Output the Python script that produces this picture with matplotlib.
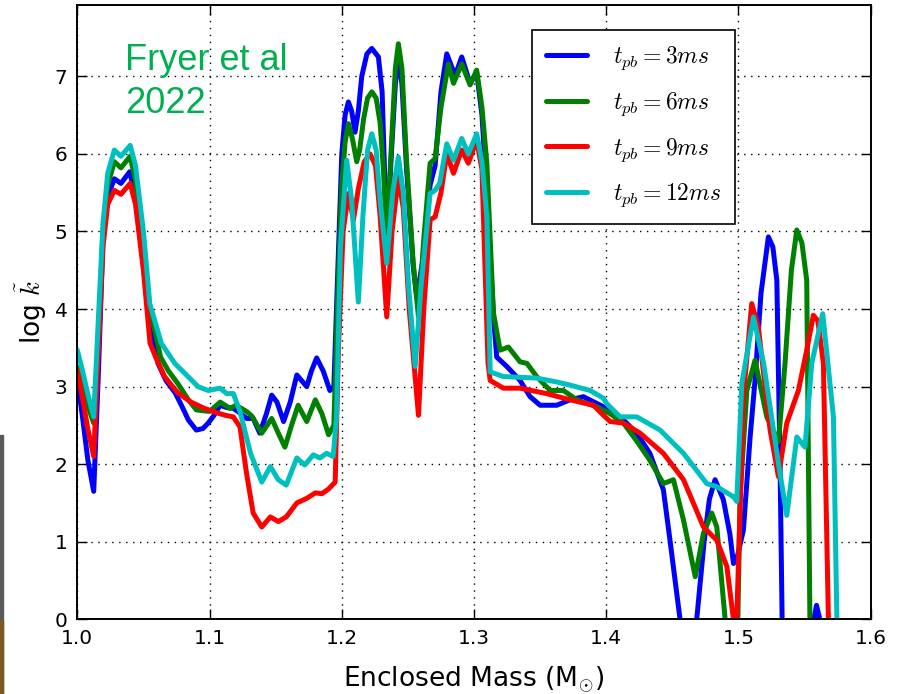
import numpy as np
import matplotlib
matplotlib.use("Agg")
from matplotlib import pyplot as plt
from matplotlib.patches import Rectangle

plt.rcParams['mathtext.fontset'] = 'cm'
plt.rcParams['font.family'] = 'DejaVu Sans'

# enclosed mass (Msun) and log opacity for each post-bounce time
mass_3ms = [1.000, 1.004, 1.008, 1.0124, 1.016, 1.0194, 1.023, 1.028, 1.033, 1.0396,
            1.044, 1.050, 1.055, 1.061, 1.067, 1.074, 1.079, 1.084, 1.090, 1.095,
            1.099, 1.103, 1.108, 1.113, 1.118, 1.123, 1.128, 1.133, 1.138, 1.143,
            1.147, 1.151, 1.156, 1.161, 1.166, 1.1735, 1.177, 1.181, 1.186, 1.191,
            1.194, 1.197, 1.200, 1.2025, 1.205, 1.2075, 1.210, 1.2125, 1.2151, 1.219,
            1.2227, 1.2277, 1.2305, 1.234, 1.2375, 1.2405, 1.2428, 1.2455, 1.249, 1.254,
            1.2567, 1.261, 1.2668, 1.2706, 1.275, 1.2794, 1.2857, 1.2907, 1.297, 1.302,
            1.306, 1.3097, 1.3147, 1.3172, 1.3248, 1.3348, 1.3424, 1.350, 1.3625, 1.3726,
            1.3827, 1.3979, 1.408, 1.413, 1.423, 1.433, 1.4432, 1.4482, 1.4558, 1.460,
            1.464, 1.4684, 1.474, 1.478, 1.4823, 1.4886, 1.4935, 1.4962, 1.499, 1.5037,
            1.5088, 1.5125, 1.517, 1.5226, 1.526, 1.529, 1.5314, 1.533, 1.535, 1.555,
            1.557, 1.559, 1.5615, 1.563]
logk_3ms = [3.10, 2.60, 2.05, 1.65, 3.20, 4.90, 5.45, 5.68, 5.62, 5.77,
            5.45, 4.55, 3.85, 3.30, 3.08, 2.92, 2.75, 2.57, 2.44, 2.46,
            2.53, 2.62, 2.76, 2.73, 2.72, 2.66, 2.59, 2.59, 2.40, 2.65,
            2.89, 2.80, 2.55, 2.80, 3.15, 3.00, 3.20, 3.37, 3.20, 2.95,
            3.00, 4.50, 6.00, 6.50, 6.67, 6.55, 6.28, 6.55, 7.00, 7.29,
            7.36, 7.25, 6.80, 4.85, 6.00, 6.90, 7.25, 6.90, 5.80, 4.55,
            4.15, 4.60, 5.60, 5.85, 6.80, 7.29, 7.01, 7.25, 6.91, 7.05,
            6.50, 5.50, 3.90, 3.38, 3.26, 3.08, 2.87, 2.76, 2.76, 2.83,
            2.87, 2.74, 2.61, 2.57, 2.40, 2.14, 1.67, 1.02, 0.00, -0.50,
            -0.50, 0.00, 1.00, 1.55, 1.80, 1.54, 1.10, 0.72, 0.80, 1.15,
            2.35, 3.08, 4.20, 4.93, 4.80, 4.37, 2.01, 0.00, -0.50, -0.50,
            0.00, 0.18, 0.00, -0.50]

mass_6ms = [1.000, 1.004, 1.008, 1.0124, 1.016, 1.0194, 1.023, 1.028, 1.033, 1.040,
            1.044, 1.050, 1.055, 1.063, 1.069, 1.076, 1.084, 1.090, 1.100, 1.104,
            1.108, 1.1155, 1.120, 1.124, 1.128, 1.132, 1.1395, 1.147, 1.152, 1.157,
            1.162, 1.167, 1.1735, 1.180, 1.185, 1.190, 1.194, 1.197, 1.200, 1.2025,
            1.205, 1.208, 1.2113, 1.2135, 1.2165, 1.2195, 1.2227, 1.226, 1.229, 1.2315,
            1.234, 1.2375, 1.2405, 1.2428, 1.2455, 1.249, 1.254, 1.258, 1.262, 1.2668,
            1.2706, 1.275, 1.2806, 1.2845, 1.2907, 1.297, 1.302, 1.306, 1.3097, 1.3147,
            1.3197, 1.326, 1.3348, 1.340, 1.3474, 1.3575, 1.3676, 1.3777, 1.3929, 1.403,
            1.413, 1.423, 1.433, 1.4432, 1.4508, 1.4584, 1.4673, 1.4735, 1.4798, 1.4836,
            1.4899, 1.4925, 1.499, 1.5012, 1.5063, 1.5125, 1.5214, 1.5302, 1.5352, 1.540,
            1.5441, 1.548, 1.5516, 1.554, 1.556]
logk_6ms = [3.25, 3.00, 2.75, 2.53, 3.60, 5.00, 5.60, 5.90, 5.82, 5.97,
            5.65, 4.70, 4.00, 3.38, 3.20, 3.04, 2.83, 2.70, 2.68, 2.74,
            2.80, 2.72, 2.76, 2.72, 2.68, 2.62, 2.40, 2.59, 2.40, 2.22,
            2.50, 2.76, 2.55, 2.83, 2.65, 2.38, 2.50, 4.20, 5.60, 6.15,
            6.39, 6.20, 5.90, 6.05, 6.45, 6.72, 6.80, 6.72, 6.40, 5.80,
            4.89, 6.10, 7.10, 7.42, 7.10, 5.90, 4.60, 3.90, 4.90, 5.88,
            5.94, 6.60, 7.16, 6.91, 7.16, 6.89, 7.08, 6.60, 5.88, 3.95,
            3.47, 3.51, 3.32, 3.30, 3.13, 2.95, 2.95, 2.83, 2.74, 2.65,
            2.53, 2.30, 2.05, 1.75, 1.80, 1.28, 0.55, 1.11, 1.37, 1.19,
            0.00, -0.50, -0.50, 1.58, 2.95, 3.34, 2.61, 2.29, 3.30, 4.50,
            5.02, 4.85, 4.37, 0.00, -0.50]

mass_9ms = [1.000, 1.004, 1.008, 1.0124, 1.016, 1.0194, 1.023, 1.028, 1.033, 1.040,
            1.044, 1.050, 1.055, 1.060, 1.066, 1.076, 1.086, 1.096, 1.106, 1.112,
            1.118, 1.123, 1.128, 1.133, 1.1395, 1.146, 1.152, 1.158, 1.166, 1.1735,
            1.180, 1.185, 1.190, 1.195, 1.1975, 1.201, 1.205, 1.2088, 1.2125, 1.217,
            1.2214, 1.2255, 1.229, 1.234, 1.238, 1.2428, 1.2465, 1.251, 1.258, 1.262,
            1.2668, 1.2706, 1.275, 1.2794, 1.2845, 1.2907, 1.2957, 1.302, 1.306, 1.3106,
            1.3122, 1.3222, 1.3348, 1.355, 1.3726, 1.3903, 1.3979, 1.403, 1.413, 1.4256,
            1.4432, 1.4584, 1.4735, 1.4836, 1.4912, 1.4962, 1.4975, 1.4987, 1.5037, 1.510,
            1.515, 1.5239, 1.5302, 1.5365, 1.5453, 1.5516, 1.5566, 1.560, 1.5642, 1.568,
            1.570]
logk_9ms = [3.21, 2.85, 2.45, 2.10, 3.50, 4.80, 5.35, 5.53, 5.48, 5.62,
            5.35, 4.50, 3.56, 3.35, 3.13, 2.92, 2.80, 2.72, 2.66, 2.63,
            2.61, 2.48, 1.88, 1.37, 1.19, 1.32, 1.26, 1.32, 1.50, 1.56,
            1.63, 1.62, 1.68, 1.77, 3.50, 5.00, 5.49, 5.15, 5.55, 5.90,
            6.00, 5.85, 5.20, 3.90, 5.00, 5.70, 5.30, 4.00, 2.63, 4.00,
            5.15, 5.19, 5.50, 6.00, 5.75, 6.05, 5.88, 6.18, 5.80, 3.30,
            3.08, 2.98, 2.98, 2.91, 2.83, 2.76, 2.63, 2.55, 2.53, 2.40,
            2.14, 1.80, 1.19, 1.02, 0.68, 0.00, -0.30, 0.00, 2.87, 4.07,
            3.77, 2.44, 1.84, 2.53, 2.95, 3.47, 3.92, 3.85, 3.30, 0.00,
            -0.50]

mass_12ms = [1.000, 1.004, 1.008, 1.0124, 1.016, 1.0194, 1.023, 1.028, 1.033, 1.040,
             1.044, 1.050, 1.0548, 1.0635, 1.0737, 1.0837, 1.0913, 1.099, 1.108, 1.113,
             1.118, 1.123, 1.131, 1.1395, 1.146, 1.152, 1.158, 1.166, 1.172, 1.1785,
             1.1835, 1.1885, 1.1935, 1.196, 1.199, 1.2037, 1.2075, 1.2125, 1.216, 1.2195,
             1.2227, 1.226, 1.229, 1.234, 1.2385, 1.2428, 1.2465, 1.2505, 1.2555, 1.260,
             1.2668, 1.2706, 1.274, 1.2794, 1.2845, 1.2907, 1.2957, 1.302, 1.306, 1.3097,
             1.3112, 1.3122, 1.3222, 1.3474, 1.3625, 1.3726, 1.3878, 1.3979, 1.4004, 1.4105,
             1.4231, 1.4407, 1.4584, 1.476, 1.4836, 1.4962, 1.4987, 1.5025, 1.5113, 1.519,
             1.5302, 1.5365, 1.5441, 1.5503, 1.5554, 1.5637, 1.5718, 1.5744, 1.576]
logk_12ms = [3.47, 3.20, 2.90, 2.61, 3.90, 5.10, 5.75, 6.05, 5.97, 6.11,
             5.85, 5.00, 4.07, 3.56, 3.30, 3.13, 3.00, 2.95, 2.98, 2.91,
             2.91, 2.68, 2.14, 1.77, 1.97, 1.80, 1.73, 2.08, 1.99, 2.12,
             2.08, 2.14, 2.10, 2.60, 4.80, 5.92, 5.40, 4.09, 5.20, 6.05,
             6.26, 6.05, 5.40, 4.59, 5.50, 5.96, 5.50, 4.30, 3.26, 4.30,
             5.49, 5.53, 5.62, 6.13, 5.92, 6.20, 6.00, 6.26, 5.90, 5.19,
             4.00, 3.19, 3.13, 3.11, 3.06, 3.02, 2.95, 2.85, 2.78, 2.61,
             2.61, 2.44, 2.14, 1.75, 1.71, 1.58, 1.52, 3.04, 3.90, 3.30,
             2.01, 1.34, 2.35, 2.22, 3.30, 3.94, 2.61, 0.00, -0.50]

series = [
    (mass_3ms, logk_3ms, "b", r"$t_{pb}=3ms$"),
    (mass_6ms, logk_6ms, "g", r"$t_{pb}=6ms$"),
    (mass_9ms, logk_9ms, "r", r"$t_{pb}=9ms$"),
    (mass_12ms, logk_12ms, "c", r"$t_{pb}=12ms$"),
]

fig = plt.figure(figsize=(9.01, 6.94), dpi=100)
ax = fig.add_axes([0.0858, 0.1076, 0.8806, 0.8852])

for m, k, col, lab in series:
    ax.plot(m, k, color=col, lw=3.6, label=lab,
            solid_joinstyle="round", solid_capstyle="round")

ax.set_xlim(1.0, 1.6)
ax.set_ylim(0, 7.92)
ax.set_xticks([1.0, 1.1, 1.2, 1.3, 1.4, 1.5, 1.6])
ax.set_yticks(range(8))
ax.grid(True, linestyle=(0, (1, 4)), color="k", lw=1.0)
ax.tick_params(direction="in", top=True, right=True, length=7, width=1,
               labelsize=14.5, pad=7)
for sp in ax.spines.values():
    sp.set_linewidth(1.4)

ax.set_xlabel(r"Enclosed Mass (M$_{\odot}$)", fontsize=19, labelpad=12)
ax.set_ylabel(r"log $\tilde{k}$", fontsize=19, labelpad=4)

leg = ax.legend(loc="upper right", bbox_to_anchor=(735 / 901, 1 - 30 / 694),
                bbox_transform=fig.transFigure, fontsize=17, fancybox=False,
                framealpha=1, edgecolor="k", borderpad=0.6, labelspacing=0.75,
                handlelength=1.7, handletextpad=1.1, borderaxespad=0)
leg.get_frame().set_linewidth(1.2)

fig.text(125 / 901, 1 - 70 / 694, "Fryer et al", color="#00B050", fontsize=26,
         family="Liberation Sans", va="baseline")
fig.text(125 / 901, 1 - 113 / 694, "2022", color="#00B050", fontsize=26,
         family="Liberation Sans", va="baseline")

# thin slide edge peeking in at the lower left
fig.patches.append(Rectangle((0, 0), 3 / 901, 0.373, transform=fig.transFigure,
                             color="#5a5a5a", zorder=5))
fig.patches.append(Rectangle((0, 0), 3 / 901, 0.105, transform=fig.transFigure,
                             color="#7a5a20", zorder=6))

fig.savefig("out.png", dpi=100)
